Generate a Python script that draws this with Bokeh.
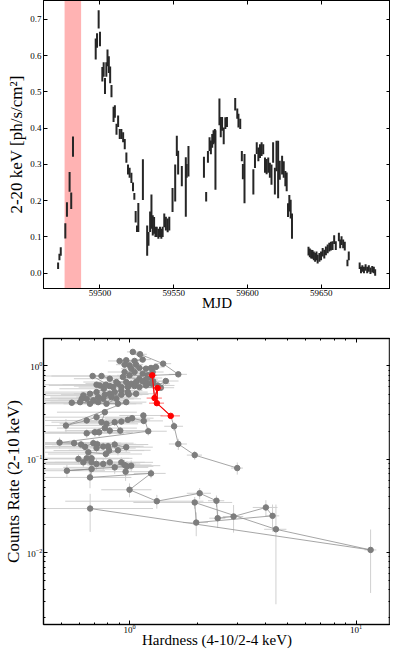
import numpy as np
from bokeh.plotting import figure
from bokeh.models import (ColumnDataSource, Range1d, FixedTicker, LinearAxis, LogAxis,
                          LogTickFormatter, PrintfTickFormatter, BoxAnnotation,
                          CustomJSTickFormatter)
from bokeh.layouts import column
from bokeh.embed import file_html
from bokeh.resources import INLINE

FONT = "Liberation Serif"

# ---------------- light curve (top panel) ----------------
mjd = [59471.6, 59472.5, 59473.4, 59476.5, 59477.6, 59479.4, 59480.5, 59481.7,
       59497.1, 59498.0, 59499.1, 59500.0, 59501.6, 59502.5, 59503.4, 59504.3, 59505.1, 59506.0, 59506.9, 59507.8,
       59509.2, 59510.1, 59511.2, 59512.3, 59513.4, 59514.5, 59515.7, 59516.8, 59517.9, 59519.0,
       59520.1, 59521.3, 59522.4, 59523.3, 59524.2, 59525.1, 59526.0, 59529.1, 59532.0, 59532.9,
       59534.0, 59534.9, 59535.8, 59536.7, 59537.6, 59538.5, 59539.6, 59540.7, 59541.6, 59542.5,
       59543.6, 59544.7, 59545.9, 59547.0, 59549.2, 59551.0, 59552.1, 59553.0, 59555.5, 59558.2,
       59558.8, 59560.0, 59570.5, 59572.0, 59573.2, 59574.3, 59575.2, 59576.1, 59577.0, 59577.9,
       59578.3, 59581.0, 59581.9, 59582.8, 59583.9, 59585.0, 59586.1, 59591.7, 59593.1, 59593.9,
       59595.1, 59596.2, 59596.9, 59598.0, 59604.0, 59605.1, 59606.3, 59607.4, 59608.5, 59609.6,
       59610.7, 59611.9, 59613.0, 59614.1, 59615.2, 59616.3, 59617.4, 59618.6, 59619.7, 59620.8,
       59621.9, 59623.5, 59624.6, 59625.7, 59626.6, 59627.5, 59628.4, 59629.3, 59630.2,
       59641.4, 59642.3, 59643.2, 59644.1, 59645.0, 59645.9, 59646.8, 59647.6, 59648.8, 59649.9,
       59651.0, 59652.1, 59653.2, 59654.4, 59655.5, 59656.6, 59657.7, 59658.8, 59659.9,
       59662.0, 59662.9, 59663.8, 59664.9, 59666.0, 59667.8, 59668.7,
       59676.1, 59677.0, 59677.9, 59679.0, 59680.1, 59681.2, 59682.3, 59683.4, 59684.6, 59685.7, 59686.6]

flux = [0.021, 0.045, 0.060, 0.117, 0.176, 0.252, 0.200, 0.349,
        0.618, 0.642, 0.700, 0.646, 0.549, 0.562, 0.516, 0.562, 0.594, 0.575, 0.547, 0.502,
        0.438, 0.446, 0.397, 0.419, 0.384, 0.384, 0.375, 0.356, 0.319, 0.286,
        0.277, 0.263, 0.238, 0.212, 0.156, 0.123, 0.154, 0.258, 0.090, 0.095,
        0.142, 0.170, 0.132, 0.132, 0.114, 0.114, 0.109, 0.114, 0.109, 0.114,
        0.146, 0.137, 0.132, 0.137, 0.202, 0.249, 0.351, 0.305, 0.268, 0.238,
        0.282, 0.309, 0.292, 0.211, 0.321, 0.356, 0.347, 0.365, 0.375, 0.379,
        0.312, 0.445, 0.403, 0.412, 0.379, 0.414, 0.417, 0.466, 0.440, 0.421,
        0.412, 0.323, 0.280, 0.261, 0.252, 0.309, 0.345, 0.328, 0.337, 0.342,
        0.342, 0.298, 0.294, 0.298, 0.284, 0.272, 0.333, 0.254, 0.323, 0.286,
        0.284, 0.298, 0.286, 0.261, 0.252, 0.174, 0.193, 0.177, 0.130,
        0.061, 0.056, 0.053, 0.052, 0.048, 0.044, 0.048, 0.039, 0.044, 0.048,
        0.058, 0.053, 0.062, 0.067, 0.072, 0.075, 0.076, 0.093, 0.076,
        0.100, 0.081, 0.090, 0.081, 0.075, 0.028, 0.048,
        0.021, 0.009, 0.013, 0.009, 0.016, 0.009, 0.013, 0.007, 0.011, 0.009, 0.002]

flux_err = [0.009, 0.009, 0.012, 0.021, 0.020, 0.027, 0.023, 0.028,
            0.029, 0.020, 0.025, 0.020, 0.020, 0.020, 0.022, 0.020, 0.023, 0.023, 0.023, 0.017,
            0.021, 0.017, 0.015, 0.016, 0.014, 0.014, 0.014, 0.014, 0.014, 0.014,
            0.014, 0.014, 0.012, 0.009, 0.016, 0.009, 0.040, 0.056, 0.042, 0.019,
            0.028, 0.047, 0.028, 0.023, 0.014, 0.014, 0.014, 0.014, 0.014, 0.014,
            0.019, 0.019, 0.019, 0.019, 0.033, 0.051, 0.028, 0.033, 0.028, 0.082,
            0.019, 0.042, 0.029, 0.013, 0.016, 0.019, 0.019, 0.019, 0.019, 0.019,
            0.082, 0.037, 0.028, 0.019, 0.023, 0.016, 0.014, 0.017, 0.014, 0.019,
            0.014, 0.014, 0.021, 0.068, 0.035, 0.019, 0.016, 0.019, 0.019, 0.019,
            0.014, 0.021, 0.021, 0.021, 0.021, 0.028, 0.028, 0.037, 0.042, 0.079,
            0.026, 0.026, 0.023, 0.021, 0.026, 0.019, 0.023, 0.026, 0.035,
            0.012, 0.012, 0.012, 0.012, 0.012, 0.012, 0.012, 0.012, 0.012, 0.012,
            0.012, 0.012, 0.012, 0.012, 0.012, 0.012, 0.012, 0.012, 0.012,
            0.012, 0.012, 0.012, 0.012, 0.012, 0.009, 0.012,
            0.009, 0.009, 0.009, 0.009, 0.009, 0.009, 0.009, 0.009, 0.009, 0.009, 0.009]

band_start, band_end = 59476.0, 59487.2
mjd_ticks = [59500, 59550, 59600, 59650]
flux_ticks = [0.0, 0.1, 0.2, 0.3, 0.4, 0.5, 0.6, 0.7]

# ---------------- hardness-intensity diagram (bottom panel) ----------------
hid_hard = [2.99, 1.94, 1.642, 1.573,
            1.642, 1.407, 1.113, 1.034, 1.143, 1.052, 0.904, 0.967, 0.951, 1.0,
            1.069, 1.017, 1.106, 1.182, 1.244, 1.307, 1.264, 1.143, 1.202, 1.0,
            0.951, 1.052, 0.935, 1.106, 1.182, 1.244, 1.273, 1.143, 1.202, 1.069,
            1.017, 0.967, 0.875, 0.818, 0.752, 0.687, 0.818, 0.889, 0.92, 0.983,
            1.052, 1.106, 1.182, 1.256, 1.33, 1.446, 1.374,
            0.74, 0.715, 0.786, 0.846, 0.77, 0.715, 0.669, 0.625, 0.605, 0.647,
            0.692, 0.727, 0.778, 0.818, 0.86, 0.92, 0.983, 0.765, 0.832, 0.791,
            0.875, 0.92, 0.993, 1.069, 0.615, 0.669, 0.727, 0.556, 0.889, 0.967,
            0.524, 0.647, 0.715, 0.778, 0.752, 0.791, 0.86, 0.91, 0.818, 0.778,
            0.734, 0.703, 0.647, 0.92, 0.983, 1.027, 1.155, 1.151, 1.21,
            0.491, 0.569, 0.611, 0.636, 0.692, 0.72, 0.715, 0.765, 0.804, 0.812,
            0.86, 0.967, 0.889, 0.786, 0.658, 0.68, 0.647, 0.68, 0.595, 0.625,
            0.715, 0.765, 0.818, 0.86, 0.92, 1.017, 0.951, 0.961, 0.974, 0.529,
            0.68, 0.669, 1.244,
            1.0, 1.32, 2.04, 2.42, 2.45, 2.88, 4.0, 4.28, 1.97, 1.94, 4.43, 11.6, 0.67]

hid_rate = [0.0806, 0.111, 0.146, 0.226,
            0.814, 1.059, 1.335, 1.415, 1.17, 1.132, 1.132, 1.151, 1.033, 1.017,
            1.033, 0.936, 0.952, 0.936, 0.952, 0.975, 0.862, 0.828, 0.794, 0.794,
            0.862, 0.862, 0.762, 0.731, 0.719, 0.743, 0.684, 0.684, 0.646, 0.673,
            0.646, 0.673, 0.673, 0.731, 0.781, 0.781, 0.609, 0.646, 0.594, 0.594,
            0.609, 0.594, 0.619, 0.646, 0.619, 0.69, 0.585,
            0.619, 0.63, 0.63, 0.594, 0.57, 0.525, 0.504, 0.484, 0.41, 0.445,
            0.428, 0.464, 0.492, 0.504, 0.525, 0.547, 0.525, 0.445, 0.464, 0.394,
            0.445, 0.492, 0.496, 0.504, 0.445, 0.394, 0.41, 0.404, 0.394, 0.41,
            0.23, 0.261, 0.283, 0.32, 0.25, 0.24, 0.25, 0.203, 0.203, 0.216,
            0.195, 0.195, 0.19, 0.254, 0.265, 0.276, 0.258, 0.295, 0.2,
            0.151, 0.149, 0.144, 0.136, 0.149, 0.145, 0.132, 0.137, 0.138, 0.124,
            0.144, 0.135, 0.125, 0.114, 0.119, 0.1025, 0.1025, 0.0929, 0.101, 0.0929,
            0.0891, 0.0891, 0.0929, 0.082, 0.0929, 0.0855, 0.0869, 0.0737, 0.0841, 0.0755,
            0.0787, 0.064, 0.0707,
            0.0472, 0.0356, 0.0433, 0.036, 0.0234, 0.0244, 0.0305, 0.0248, 0.021, 0.0345, 0.0178, 0.0107, 0.0297]

hid_hard_err = [0.18, 0.15, 0.15, 0.15,
                0.15, 0.12, 0.08, 0.06, 0.10, 0.08, 0.10, 0.08, 0.08, 0.08,
                0.08, 0.10, 0.10, 0.10, 0.12, 0.12, 0.15, 0.12, 0.12, 0.12,
                0.15, 0.12, 0.20, 0.15, 0.15, 0.15, 0.15, 0.15, 0.15, 0.15,
                0.15, 0.18, 0.25, 0.25, 0.30, 0.30, 0.25, 0.25, 0.20, 0.18,
                0.18, 0.15, 0.20, 0.25, 0.25, 0.20, 0.20,
                0.30, 0.30, 0.28, 0.25, 0.28, 0.30, 0.30, 0.30, 0.30, 0.30,
                0.30, 0.28, 0.28, 0.25, 0.25, 0.22, 0.22, 0.28, 0.25, 0.28,
                0.25, 0.22, 0.22, 0.20, 0.30, 0.30, 0.28, 0.30, 0.25, 0.22,
                0.25, 0.30, 0.30, 0.30, 0.30, 0.30, 0.28, 0.28, 0.30, 0.30,
                0.30, 0.30, 0.30, 0.28, 0.25, 0.25, 0.25, 0.25, 0.25,
                0.25, 0.35, 0.35, 0.35, 0.35, 0.35, 0.35, 0.35, 0.35, 0.35,
                0.35, 0.30, 0.35, 0.35, 0.35, 0.35, 0.35, 0.35, 0.30, 0.30,
                0.35, 0.35, 0.35, 0.35, 0.35, 0.35, 0.30, 0.30, 0.30, 0.25,
                0.35, 0.35, 0.20,
                0.25, 0.80, 0.25, 0.20, 0.20, 0.30, 0.50, 0.30, 0.25, 0.90, 0.50, 0.70, 0.60]

hid_rate_err = [0.012, 0.012, 0.020, 0.025,
                0.035, 0.040, 0.050, 0.050, 0.050, 0.050, 0.050, 0.050, 0.045, 0.045,
                0.045, 0.040, 0.040, 0.040, 0.040, 0.040, 0.040, 0.035, 0.035, 0.035,
                0.040, 0.040, 0.035, 0.035, 0.035, 0.035, 0.030, 0.030, 0.030, 0.030,
                0.030, 0.030, 0.030, 0.035, 0.035, 0.035, 0.030, 0.030, 0.030, 0.030,
                0.030, 0.030, 0.030, 0.030, 0.030, 0.030, 0.030,
                0.030, 0.030, 0.030, 0.030, 0.030, 0.030, 0.030, 0.030, 0.025, 0.025,
                0.025, 0.025, 0.025, 0.025, 0.025, 0.025, 0.025, 0.025, 0.025, 0.025,
                0.025, 0.025, 0.025, 0.025, 0.025, 0.025, 0.025, 0.030, 0.025, 0.025,
                0.040, 0.020, 0.020, 0.025, 0.020, 0.020, 0.020, 0.020, 0.020, 0.020,
                0.020, 0.020, 0.020, 0.020, 0.020, 0.020, 0.020, 0.025, 0.020,
                0.020, 0.015, 0.015, 0.015, 0.015, 0.015, 0.015, 0.015, 0.015, 0.015,
                0.015, 0.015, 0.015, 0.012, 0.015, 0.012, 0.012, 0.012, 0.012, 0.012,
                0.012, 0.012, 0.012, 0.012, 0.012, 0.012, 0.012, 0.015, 0.012, 0.012,
                0.012, 0.015, 0.008,
                0.008, 0.006, 0.006, 0.005, 0.005, 0.008, 0.006, 0.008, 0.006, 0.005, 0.015, 0.007, 0.013]

red_hard = [1.52, 1.32, 1.33, 1.29, 1.26]
red_rate = [0.292, 0.40, 0.58, 0.453, 0.794]
red_hard_err = [0.15, 0.10, 0.07, 0.10, 0.055]
red_rate_err = [0.015, 0.02, 0.03, 0.02, 0.04]
red_after_index = 4   # red points sit between gray points 4 and 5 of the sequence

hard_ticks = [1, 10]
hard_minor = [0.5, 0.6, 0.7, 0.8, 0.9, 2, 3, 4, 5, 6, 7, 8, 9]
rate_ticks = [0.01, 0.1, 1]
rate_minor = [0.002, 0.003, 0.004, 0.005, 0.006, 0.007, 0.008, 0.009,
              0.02, 0.03, 0.04, 0.05, 0.06, 0.07, 0.08, 0.09,
              0.2, 0.3, 0.4, 0.5, 0.6, 0.7, 0.8, 0.9]


def style_axis(ax, label_px):
    ax.major_label_text_font = FONT
    ax.major_label_text_font_size = "9px"
    ax.axis_label_text_font = FONT
    ax.axis_label_text_font_size = label_px
    ax.axis_label_text_font_style = "normal"
    ax.axis_label_text_color = "black"
    ax.major_label_text_color = "black"
    ax.major_tick_in = 4
    ax.major_tick_out = 0
    ax.minor_tick_in = 2
    ax.minor_tick_out = 0
    ax.axis_line_color = "black"
    ax.major_tick_line_color = "black"
    ax.minor_tick_line_color = "black"


def blank_axis(ax):
    ax.formatter = CustomJSTickFormatter(code="return ''")
    ax.major_label_text_font_size = "0px"
    ax.major_label_standoff = 0
    ax.axis_label = None
    ax.major_tick_in = 4
    ax.major_tick_out = 0
    ax.minor_tick_in = 2
    ax.minor_tick_out = 0
    ax.axis_line_color = "black"


# ---------------- top figure ----------------
p1 = figure(width=390, height=313, output_backend="svg", toolbar_location=None,
            x_range=Range1d(59461.7, 59697.0), y_range=Range1d(-0.042, 0.752),
            min_border_left=35, min_border_right=0, min_border_top=0, min_border_bottom=0)
p1.xgrid.visible = False
p1.ygrid.visible = False
p1.outline_line_color = "black"
p1.background_fill_color = "white"

p1.add_layout(BoxAnnotation(left=band_start, right=band_end, fill_color="#ffb3b3",
                            fill_alpha=1.0, line_alpha=0, level="underlay"))

lc = ColumnDataSource(dict(mjd=mjd, lo=np.array(flux) - np.array(flux_err),
                           hi=np.array(flux) + np.array(flux_err)))
p1.segment(x0="mjd", y0="lo", x1="mjd", y1="hi", source=lc, line_width=2, line_color="#262626")

p1.xaxis.ticker = FixedTicker(ticks=mjd_ticks)
p1.yaxis.ticker = FixedTicker(ticks=flux_ticks)
p1.yaxis.formatter = PrintfTickFormatter(format="%.1f")
p1.xaxis.axis_label = "MJD"
p1.yaxis.axis_label = "2-20 keV [ph/s/cm\u00b2]"
style_axis(p1.xaxis[0], "15px")
style_axis(p1.yaxis[0], "17px")
p1.xaxis.minor_tick_line_color = None
p1.yaxis.minor_tick_line_color = None
p1.xaxis.major_label_standoff = 1
p1.xaxis.axis_label_standoff = -4
p1.yaxis.major_label_standoff = 2
p1.yaxis.axis_label_standoff = 1

t_ax = LinearAxis(ticker=FixedTicker(ticks=mjd_ticks))
blank_axis(t_ax)
t_ax.minor_tick_line_color = None
p1.add_layout(t_ax, "above")
r_ax = LinearAxis(ticker=FixedTicker(ticks=flux_ticks))
blank_axis(r_ax)
r_ax.minor_tick_line_color = None
p1.add_layout(r_ax, "right")

# ---------------- bottom figure ----------------
p2 = figure(width=390, height=337, output_backend="svg", toolbar_location=None,
            x_axis_type="log", y_axis_type="log",
            x_range=Range1d(0.417, 14.2), y_range=Range1d(0.0017, 1.97),
            min_border_left=35, min_border_right=0, min_border_top=25, min_border_bottom=0)
p2.xgrid.visible = False
p2.ygrid.visible = False
p2.outline_line_color = "#333333"
p2.outline_line_width = 1.5

h = np.array(hid_hard)
r = np.array(hid_rate)
he = np.array(hid_hard_err)
re_ = np.array(hid_rate_err)
err_src = ColumnDataSource(dict(h=h, r=r, h0=h - he, h1=h + he, r0=r - re_, r1=r + re_))
p2.segment(x0="h0", x1="h1", y0="r", y1="r", source=err_src, line_color="#d0d0d0", line_width=1)
p2.segment(x0="h", x1="h", y0="r0", y1="r1", source=err_src, line_color="#d0d0d0", line_width=1)

path_h = list(hid_hard[:red_after_index]) + list(red_hard) + list(hid_hard[red_after_index:])
path_r = list(hid_rate[:red_after_index]) + list(red_rate) + list(hid_rate[red_after_index:])
p2.line(path_h, path_r, line_color="#8f8f8f", line_width=0.8)
p2.scatter("h", "r", source=err_src, marker="circle", size=5.5,
           fill_color="#7d7d7d", line_color="#7d7d7d")

rh = np.array(red_hard)
rr = np.array(red_rate)
rhe = np.array(red_hard_err)
rre = np.array(red_rate_err)
red_src = ColumnDataSource(dict(h=rh, r=rr, h0=rh - rhe, h1=rh + rhe, r0=rr - rre, r1=rr + rre))
p2.segment(x0="h0", x1="h1", y0="r", y1="r", source=red_src, line_color="#ff7070", line_width=1)
p2.segment(x0="h", x1="h", y0="r0", y1="r1", source=red_src, line_color="#ff7070", line_width=1)
p2.line("h", "r", source=red_src, line_color="#ff0000", line_width=1.2)
p2.scatter("h", "r", source=red_src, marker="circle", size=5.5,
           fill_color="#ff0000", line_color="#ff0000")

p2.xaxis.ticker = FixedTicker(ticks=hard_ticks, minor_ticks=hard_minor)
p2.yaxis.ticker = FixedTicker(ticks=rate_ticks, minor_ticks=rate_minor)
p2.xaxis.formatter = LogTickFormatter()
p2.yaxis.formatter = LogTickFormatter()
p2.xaxis.axis_label = "Hardness (4-10/2-4 keV)"
p2.yaxis.axis_label = "Counts Rate (2-10 keV)"
style_axis(p2.xaxis[0], "15px")
style_axis(p2.yaxis[0], "17px")
p2.xaxis.major_label_standoff = 0
p2.xaxis.axis_label_standoff = -4
p2.yaxis.major_label_standoff = 1
p2.yaxis.axis_label_standoff = 1

t2 = LogAxis(ticker=FixedTicker(ticks=hard_ticks, minor_ticks=hard_minor))
blank_axis(t2)
p2.add_layout(t2, "above")
r2 = LogAxis(ticker=FixedTicker(ticks=rate_ticks, minor_ticks=rate_minor))
blank_axis(r2)
p2.add_layout(r2, "right")

layout = column(p1, p2, spacing=0)
open("out.html", "w").write(file_html(layout, INLINE))
